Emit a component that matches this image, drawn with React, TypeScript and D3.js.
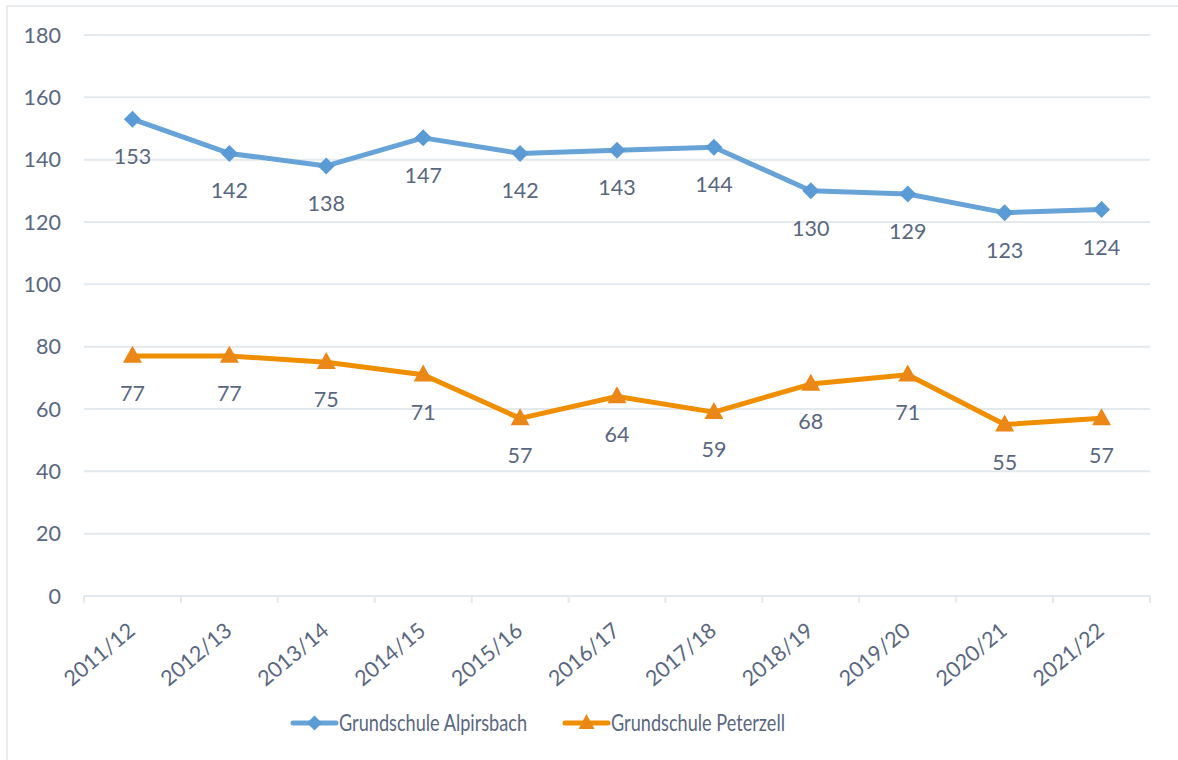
import React from "react";
import * as d3 from "d3";

const categories = ["2011/12", "2012/13", "2013/14", "2014/15", "2015/16", "2016/17", "2017/18", "2018/19", "2019/20", "2020/21", "2021/22"];
const alpirsbach = [153, 142, 138, 147, 142, 143, 144, 130, 129, 123, 124];
const peterzell = [77, 77, 75, 71, 57, 64, 59, 68, 71, 55, 57];
const yTicks = [0, 20, 40, 60, 80, 100, 120, 140, 160, 180];
const seriesNames = ["Grundschule Alpirsbach", "Grundschule Peterzell"];

const W = 1178, H = 760;
const left = 84, right = 1150, top = 35, bottom = 596;
const BLUE = "#67a3d7";
const BLUE_M = "#5b9bd5";
const ORANGE = "#ef8f00";
const ORANGE_M = "#ea8716";
const TEXT = "#5a6780";
const GRID = "#e4e9ed";
const FONT = "Lato, 'Open Sans', sans-serif";
const FS = 21.5;

export default function App() {
  const x = d3.scaleBand().domain(categories).range([left, right]).paddingInner(0).paddingOuter(0);
  const cx = (c: string) => (x(c) as number) + x.bandwidth() / 2;
  const y = d3.scaleLinear().domain([0, 180]).range([bottom, top]);
  const line = d3.line<number>().x((_, i) => cx(categories[i])).y((d) => y(d));
  const diamond = (px: number, py: number, s = 8.5) => `M${px},${py - s}L${px + s},${py}L${px},${py + s}L${px - s},${py}Z`;
  const tri = (px: number, py: number, w = 9.5, h = 17) => `M${px},${py - h * 0.6}L${px + w},${py + h * 0.4}L${px - w},${py + h * 0.4}Z`;
  const boundaries = categories.map((c) => x(c) as number).concat([right]);

  return (
    <svg width={W} height={H} style={{ display: "block", position: "absolute", left: 0, top: 0 }} fontFamily={FONT}>
      <rect x={0} y={0} width={W} height={H} fill="#fff" />
      <rect x={7} y={6} width={W + 10} height={H + 10} fill="none" stroke="#e3e7ea" strokeWidth={1.5} />
      {yTicks.map((t) => (
        <g key={t}>
          {t > 0 && <line x1={left} x2={right} y1={y(t)} y2={y(t)} stroke={GRID} strokeWidth={2} />}
          <text x={61} y={y(t) + 7.5} textAnchor="end" fontSize={FS} fill={TEXT}>{t}</text>
        </g>
      ))}
      <line x1={left} x2={right} y1={bottom} y2={bottom} stroke={GRID} strokeWidth={2} />
      {boundaries.map((b, i) => (
        <line key={i} x1={b} x2={b} y1={bottom} y2={bottom + 7} stroke={GRID} strokeWidth={2} />
      ))}
      {categories.map((c) => (
        <text key={c} transform={`translate(${cx(c) + 4},${bottom + 37}) rotate(-40)`} textAnchor="end" fontSize={21.5} fill={TEXT}>{c}</text>
      ))}
      <path d={line(alpirsbach) as string} fill="none" stroke={BLUE} strokeWidth={5} strokeLinejoin="round" />
      <path d={line(peterzell) as string} fill="none" stroke={ORANGE} strokeWidth={5} strokeLinejoin="round" />
      {alpirsbach.map((v, i) => (
        <g key={"a" + i}>
          <path d={diamond(cx(categories[i]), y(v))} fill={BLUE_M} />
          <text x={cx(categories[i])} y={y(v) + 45} textAnchor="middle" fontSize={FS} fill={TEXT}>{v}</text>
        </g>
      ))}
      {peterzell.map((v, i) => (
        <g key={"p" + i}>
          <path d={tri(cx(categories[i]), y(v))} fill={ORANGE_M} />
          <text x={cx(categories[i])} y={y(v) + 45} textAnchor="middle" fontSize={FS} fill={TEXT}>{v}</text>
        </g>
      ))}
      <g>
        <line x1={293} x2={336} y1={723} y2={723} stroke={BLUE} strokeWidth={5} strokeLinecap="round" />
        <path d={diamond(314.5, 723, 7.5)} fill={BLUE_M} />
        <text x={339} y={731} fontSize={23} fill={TEXT} textLength={188} lengthAdjust="spacingAndGlyphs">{seriesNames[0]}</text>
        <line x1={565} x2={608} y1={723} y2={723} stroke={ORANGE} strokeWidth={5} strokeLinecap="round" />
        <path d={tri(586.5, 723, 8, 15)} fill={ORANGE_M} />
        <text x={611} y={731} fontSize={23} fill={TEXT} textLength={174} lengthAdjust="spacingAndGlyphs">{seriesNames[1]}</text>
      </g>
    </svg>
  );
}
